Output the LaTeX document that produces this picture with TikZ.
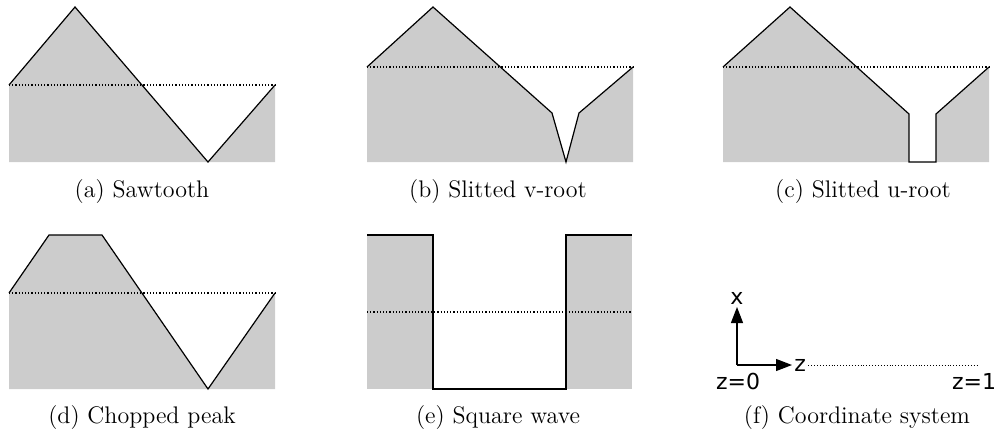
\documentclass[tikz,border=0pt]{standalone}
\usepackage{fontspec}
\usepackage{tikz}
\usetikzlibrary{arrows.meta, positioning}
\newfontfamily\achsfont{DejaVu Sans}
\tikzset{
	profil/.style={fill=gray!40, draw=none},
	kontur/.style={draw=black, line width=0.6pt, line join=miter},
	niveau/.style={densely dotted, line width=0.6pt},
	pfeil/.style={-{Triangle[length=8pt,width=6pt]}, line width=0.6pt},
	titel/.style={inner sep=0pt, font=\fontsize{12}{14}\selectfont\addfontfeatures{LetterSpace=7}},
	achse/.style={inner sep=1pt, font=\achsfont\fontsize{11}{13}\selectfont}
}

\begin{document}
\begin{tikzpicture}[x=0.5pt, y=-0.5pt]
	\useasboundingbox (0,0) rectangle (997,430);
	
	% (a) Saegezahn
	\fill[profil] (9,85) -- (75,7) -- (208,162) -- (275,85) -- (275,162) -- (9,162) -- cycle;
	\draw[kontur] (9,85) -- (75,7) -- (208,162) -- (275,85);
	\draw[niveau] (9,85) -- (275,85);
	
	% (b) Schlitz mit V-Grund
	\fill[profil] (367,67) -- (433,7) -- (552,113) -- (566,162) -- (579,113) -- (633,67) -- (633,162) -- (367,162) -- cycle;
	\draw[kontur] (367,67) -- (433,7) -- (552,113) -- (566,162) -- (579,113) -- (633,67);
	\draw[niveau] (367,67) -- (633,67);
	
	% (c) Schlitz mit U-Grund
	\fill[profil] (723,67) -- (790,7) -- (909,114) -- (909,162) -- (936,162) -- (936,114) -- (989,67) -- (989,162) -- (723,162) -- cycle;
	\fill[white] (909,114) rectangle (936,162);
	\draw[kontur] (723,67) -- (790,7) -- (909,114) -- (909,162) -- (936,162) -- (936,114) -- (989,67);
	\draw[niveau] (723,67) -- (989,67);
	
	% (d) abgeschnittene Spitze
	\fill[profil] (9,293) -- (49,235) -- (102,235) -- (208,389) -- (275,293) -- (275,389) -- (9,389) -- cycle;
	\draw[kontur] (9,293) -- (49,235) -- (102,235) -- (208,389) -- (275,293);
	\draw[niveau] (9,293) -- (275,293);
	
	% (e) Rechteck
	\fill[profil] (367,235) rectangle (433,389);
	\fill[profil] (566,235) rectangle (632,389);
	\draw[kontur] (367,235) -- (433,235) -- (433,389) -- (566,389) -- (566,235) -- (632,235);
	\draw[niveau] (367,312) -- (632,312);
	
	% (f) Koordinatensystem
	\coordinate (ursprung) at (737,365);
	\coordinate (ende) at (978,365);
	\node[achse, anchor=south] (xlab) at (737,307) {x};
	\node[achse, anchor=west] (zlab) at (792,365) {z};
	\draw[pfeil] (ursprung) -- (xlab.south);
	\draw[pfeil] (ursprung) -- (zlab.west);
	\draw[niveau, line width=0.45pt] (zlab.east) -- (ende);
	\node[achse] (znull) at (738,381) {z=0};
	\node[achse] (zeins) at (974,381) {z=1};
	
	% Bildunterschriften
	\foreach \name/\x/\y/\txt in {capa/142/192/(a) Sawtooth, capb/498/192/(b) Slitted v-root, capc/863/192/(c) Slitted u-root,
		capd/142/418/(d) Chopped peak, cape/498/418/(e) Square wave, capf/857/418/(f) Coordinate system} {
		\node[titel] (\name) at (\x,\y) {\txt};
	}
\end{tikzpicture}
\end{document}
